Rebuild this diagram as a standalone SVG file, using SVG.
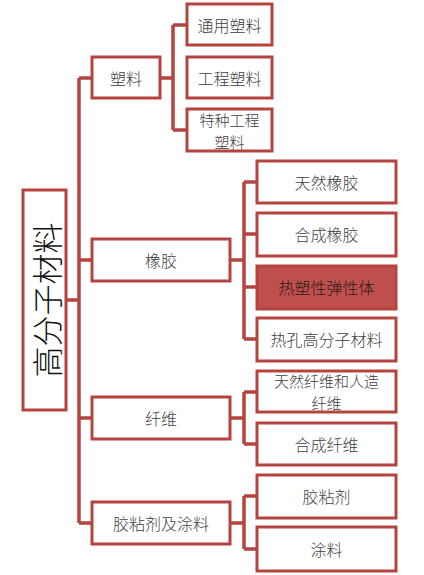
<svg xmlns="http://www.w3.org/2000/svg" width="424" height="575" viewBox="0 0 424 575">
<style>
.box{fill:#fff;stroke:#b5443f;stroke-width:3}
.hl{fill:#c0504d;stroke:#b5443f;stroke-width:3}
.t{font-family:"Noto Sans CJK SC",sans-serif;font-size:16px;fill:#404040;text-anchor:middle;dominant-baseline:central;font-weight:300}
.t2{font-size:15px}
.c{fill:none;stroke:#b5443f;stroke-width:3.5}
</style>
<rect width="424" height="575" fill="#fff"/>
<g id="connectors">
<path class="c" d="M66 300H79M79 78V523M79 78H92M79 260H92M79 418H92M79 523H92"/>
<path class="c" d="M160 78H173M173 25V130M173 25H187M173 130H187"/>
<path class="c" d="M230 260H244M244 182V339M244 182H257M244 234H257M244 287H257M244 339H257"/>
<path class="c" d="M230 418H244M244 392V444M244 392H257M244 444H257"/>
<path class="c" d="M230 523H244M244 496V549M244 496H257M244 549H257"/>
</g>
<g id="root"><rect class="box" x="23" y="190" width="43" height="220"/><text transform="translate(45 300) rotate(-90)" class="t" style="font-size:31px;fill:#111">高分子材料</text></g>
<g id="n-suliao"><rect class="box" x="92" y="57" width="68" height="41"/><text class="t" x="126" y="78">塑料</text></g>
<g id="n-tongyong"><rect class="box" x="187" y="4" width="85" height="41"/><text class="t" x="229.5" y="25">通用塑料</text></g>
<g id="n-gongcheng"><rect class="box" x="187" y="57" width="85" height="41"/><text class="t" x="229.5" y="78">工程塑料</text></g>
<g id="n-tezhong"><rect class="box" x="187" y="109" width="85" height="42"/><text class="t t2" x="229.5" y="119">特种工程</text><text class="t t2" x="229.5" y="141">塑料</text></g>
<g id="n-xiangjiao"><rect class="box" x="92" y="239" width="138" height="42"/><text class="t" x="161" y="260">橡胶</text></g>
<g id="n-tianran"><rect class="box" x="257" y="161" width="139" height="42"/><text class="t" x="326.5" y="182">天然橡胶</text></g>
<g id="n-hecheng"><rect class="box" x="257" y="213" width="139" height="43"/><text class="t" x="326.5" y="234">合成橡胶</text></g>
<g id="n-resuxing"><rect class="hl" x="257" y="266" width="139" height="43"/><text class="t" x="326.5" y="287" style="fill:#2a1a1a">热塑性弹性体</text></g>
<g id="n-rekong"><rect class="box" x="257" y="318" width="139" height="43"/><text class="t" x="326.5" y="339">热孔高分子材料</text></g>
<g id="n-xianwei"><rect class="box" x="92" y="397" width="138" height="42"/><text class="t" x="161" y="418">纤维</text></g>
<g id="n-tianranxw"><rect class="box" x="257" y="371" width="139" height="41"/><text class="t t2" x="326.5" y="380.5">天然纤维和人造</text><text class="t t2" x="326.5" y="402.5">纤维</text></g>
<g id="n-hechengxw"><rect class="box" x="257" y="423" width="139" height="42"/><text class="t" x="326.5" y="444">合成纤维</text></g>
<g id="n-jiaonian"><rect class="box" x="92" y="502" width="138" height="42"/><text class="t" x="161" y="523">胶粘剂及涂料</text></g>
<g id="n-jiaonianji"><rect class="box" x="257" y="475" width="139" height="43"/><text class="t" x="326.5" y="496">胶粘剂</text></g>
<g id="n-tuliao"><rect class="box" x="257" y="527" width="139" height="44"/><text class="t" x="326.5" y="549">涂料</text></g>
</svg>
